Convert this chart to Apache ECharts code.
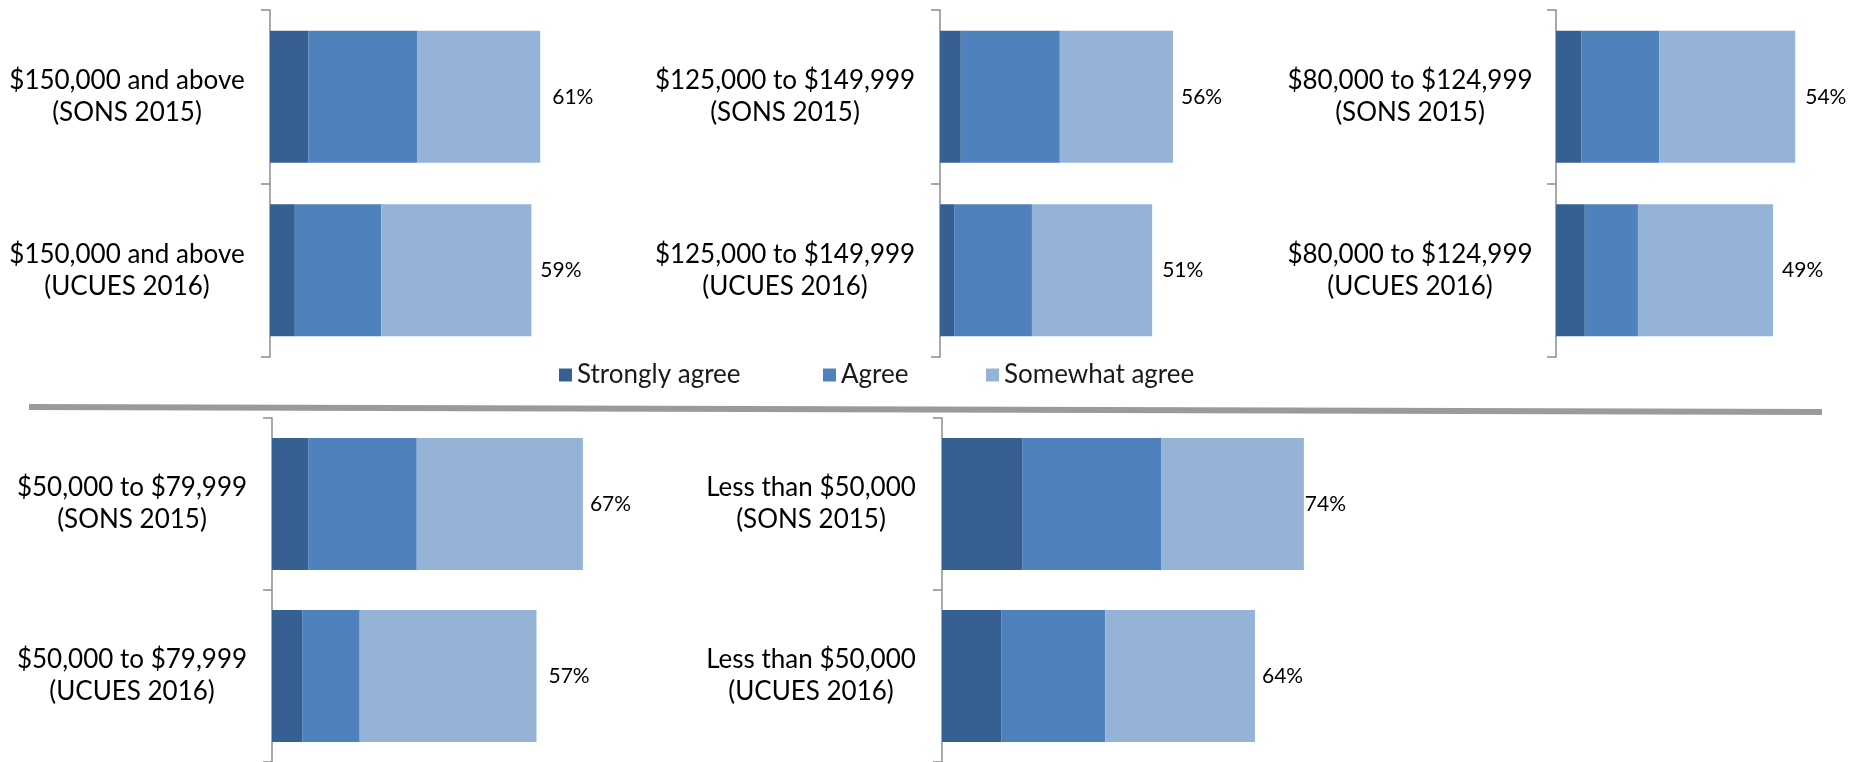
<!DOCTYPE html>
<html>
<head>
<meta charset="utf-8">
<script src="https://cdn.jsdelivr.net/npm/echarts@6/dist/echarts.min.js"></script>
<style>
  html, body { margin: 0; padding: 0; background: #ffffff; }
  #chart { width: 1849px; height: 762px; }
</style>
</head>
<body>
<div id="chart"></div>
<script>
// income bands, each asked in two surveys
var bands = ['$150,000 and above', '$125,000 to $149,999', '$80,000 to $124,999', '$50,000 to $79,999', 'Less than $50,000']
var surveys = ['(SONS 2015)', '(UCUES 2016)']
var seriesNames = ['Strongly agree', 'Agree', 'Somewhat agree']

// [SONS 2015, UCUES 2016] for each band, in percent
var stronglyAgree = [[8.7, 5.6], [5.0, 3.4], [5.7, 6.5], [7.8, 6.5], [16.5, 12.2]]
var agree = [[24.6, 19.5], [23.8, 18.7], [17.6, 12.0], [23.4, 12.4], [28.3, 21.2]]
var somewhatAgree = [[27.7, 33.9], [27.2, 28.9], [30.7, 30.5], [35.8, 38.1], [29.2, 30.6]]
var totals = [[61, 59], [56, 51], [54, 49], [67, 57], [74, 64]]

var colors = ['#376092', '#4f81bd', '#95b3d7']
var font = 'Lato'

// every panel was a separate chart with its own scale
// (grid must stay inside the canvas or echarts squeezes it)
var panels = [
  {left: 270, top: 10, height: 347, xMax: 80, pxPerPct: 4.43, labelMargin: 143, gaps: [12, 9]},
  {left: 940, top: 10, height: 347, xMax: 80, pxPerPct: 4.16, labelMargin: 155, gaps: [8, 10]},
  {left: 1556, top: 10, height: 347, xMax: 60, pxPerPct: 4.43, labelMargin: 146, gaps: [10, 9]},
  {left: 272, top: 418, height: 344, xMax: 80, pxPerPct: 4.64, labelMargin: 140, gaps: [7, 12]},
  {left: 942, top: 418, height: 344, xMax: 80, pxPerPct: 4.89, labelMargin: 131, gaps: [1, 7]}
]

// legend squares sit at fixed spots in the original
var legendLefts = [554, 818, 981]

var grid = []
var xAxis = []
var yAxis = []
var series = []
var parts = [stronglyAgree, agree, somewhatAgree]

panels.forEach(function (p, i) {
  grid.push({left: p.left, top: p.top, width: p.pxPerPct * p.xMax, height: p.height})
  xAxis.push({gridIndex: i, type: 'value', min: 0, max: p.xMax, show: false})
  yAxis.push({
    gridIndex: i,
    type: 'category',
    inverse: true,
    data: surveys.map(function (s) { return bands[i] + '\n' + s }),
    axisLine: {lineStyle: {color: '#8c8c8c', width: 1.5}},
    axisTick: {show: true, length: 9, lineStyle: {color: '#8c8c8c', width: 1.5}},
    axisLabel: {
      interval: 0,
      align: 'center',
      margin: p.labelMargin,
      color: '#000',
      fontFamily: font,
      fontSize: 26,
      lineHeight: 32
    }
  })
  parts.forEach(function (vals, k) {
    var s = {
      name: seriesNames[k],
      type: 'bar',
      stack: 'p' + i,
      xAxisIndex: i,
      yAxisIndex: i,
      barWidth: 132,
      itemStyle: {color: colors[k]},
      data: vals[i]
    }
    if (k === 2) {
      s.data = vals[i].map(function (v, j) {
        return {value: v, label: {distance: p.gaps[j]}}
      })
      s.label = {
        show: true,
        position: 'right',
        color: '#000',
        fontFamily: font,
        fontSize: 21,
        formatter: function (d) { return totals[i][d.dataIndex] + '%' }
      }
    }
    series.push(s)
  })
})

var legend = seriesNames.map(function (name, k) {
  return {
    data: [name],
    left: legendLefts[k],
    top: 357,
    icon: 'rect',
    itemWidth: 13,
    itemHeight: 13,
    itemGap: 6,
    textStyle: {color: '#1a1a1a', fontFamily: font, fontSize: 26}
  }
})

var myChart = echarts.init(document.getElementById('chart'))
myChart.setOption({
  animation: false,
  backgroundColor: '#ffffff',
  legend: legend,
  graphic: [{
    type: 'line',
    shape: {x1: 29, y1: 407, x2: 1822, y2: 412},
    style: {stroke: '#9a9a9a', lineWidth: 6}
  }],
  grid: grid,
  xAxis: xAxis,
  yAxis: yAxis,
  series: series
})
</script>
</body>
</html>
